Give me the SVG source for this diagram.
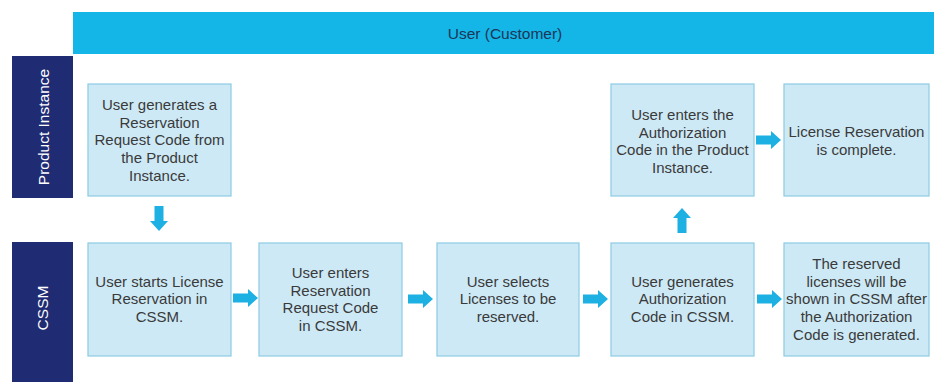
<svg xmlns="http://www.w3.org/2000/svg" width="934" height="382" viewBox="0 0 934 382">
<defs>
<style>
.box{fill:#cde9f6;stroke:#8ccbe3;stroke-width:1.2}
.t{font-family:"Liberation Sans",Arial,sans-serif;font-size:15px;fill:#3a3a3a;text-anchor:middle}
.lane{fill:#1f2b72}
.lt{font-family:"Liberation Sans",Arial,sans-serif;font-size:15.5px;fill:#ffffff;text-anchor:middle}
.hdr{font-family:"Liberation Sans",Arial,sans-serif;font-size:15.5px;fill:#1d3557;text-anchor:middle}
.arr{fill:#1cb1e2}
</style>
<path id="ar" d="M0,-4.5 H15 V-9 L25,0 L15,9 V4.5 H0 Z"/>
</defs>
<rect width="934" height="382" fill="#ffffff"/>
<g id="header">
<rect x="73" y="12" width="861" height="42" fill="#14b6e7"/>
<text class="hdr" x="505" y="39">User (Customer)</text>
</g>
<g id="lane-product">
<rect class="lane" x="12" y="56" width="61" height="142"/>
<text class="lt" transform="translate(49,127) rotate(-90)">Product Instance</text>
</g>
<g id="lane-cssm">
<rect class="lane" x="12" y="242" width="61" height="140"/>
<text class="lt" transform="translate(48,308) rotate(-90)">CSSM</text>
</g>
<g id="n1">
<rect class="box" x="88" y="84" width="143" height="112"/>
<text class="t" x="159.5"><tspan x="159.5" y="110">User generates a</tspan><tspan x="159.5" y="127.7">Reservation</tspan><tspan x="159.5" y="145.4">Request Code from</tspan><tspan x="159.5" y="163.1">the Product</tspan><tspan x="159.5" y="180.8">Instance.</tspan></text>
</g>
<g id="nA">
<rect class="box" x="88" y="243" width="143" height="113"/>
<text class="t"><tspan x="159.5" y="286.6">User starts License</tspan><tspan x="159.5" y="304.3">Reservation in</tspan><tspan x="159.5" y="322">CSSM.</tspan></text>
</g>
<g id="nB">
<rect class="box" x="259" y="243" width="143" height="113"/>
<text class="t"><tspan x="330.5" y="277.8">User enters</tspan><tspan x="330.5" y="295.5">Reservation</tspan><tspan x="330.5" y="313.2">Request Code</tspan><tspan x="330.5" y="330.9">in CSSM.</tspan></text>
</g>
<g id="nC">
<rect class="box" x="437" y="243" width="142" height="113"/>
<text class="t"><tspan x="508" y="286.6">User selects</tspan><tspan x="508" y="304.3">Licenses to be</tspan><tspan x="508" y="322">reserved.</tspan></text>
</g>
<g id="nD">
<rect class="box" x="611" y="243" width="143" height="113"/>
<text class="t"><tspan x="682.5" y="286.6">User generates</tspan><tspan x="682.5" y="304.3">Authorization</tspan><tspan x="682.5" y="322">Code in CSSM.</tspan></text>
</g>
<g id="nE">
<rect class="box" x="784" y="243" width="145" height="113"/>
<text class="t"><tspan x="856.5" y="269">The reserved</tspan><tspan x="856.5" y="286.7">licenses will be</tspan><tspan x="856.5" y="304.4">shown in CSSM after</tspan><tspan x="856.5" y="322.1">the Authorization</tspan><tspan x="856.5" y="339.8">Code is generated.</tspan></text>
</g>
<g id="nF">
<rect class="box" x="611" y="84" width="143" height="112"/>
<text class="t"><tspan x="682.5" y="119.8">User enters the</tspan><tspan x="682.5" y="137.5">Authorization</tspan><tspan x="682.5" y="155.2">Code in the Product</tspan><tspan x="682.5" y="172.9">Instance.</tspan></text>
</g>
<g id="nG">
<rect class="box" x="784" y="84" width="145" height="112"/>
<text class="t"><tspan x="856.5" y="137">License Reservation</tspan><tspan x="856.5" y="154.7">is complete.</tspan></text>
</g>
<g id="connectors" class="arr">
<use href="#ar" transform="translate(159,206) rotate(90)"/>
<use href="#ar" transform="translate(233,298)"/>
<use href="#ar" transform="translate(408,299)"/>
<use href="#ar" transform="translate(583,299)"/>
<use href="#ar" transform="translate(757,299)"/>
<use href="#ar" transform="translate(682,233) rotate(-90)"/>
<use href="#ar" transform="translate(756,140)"/>
</g>
</svg>
